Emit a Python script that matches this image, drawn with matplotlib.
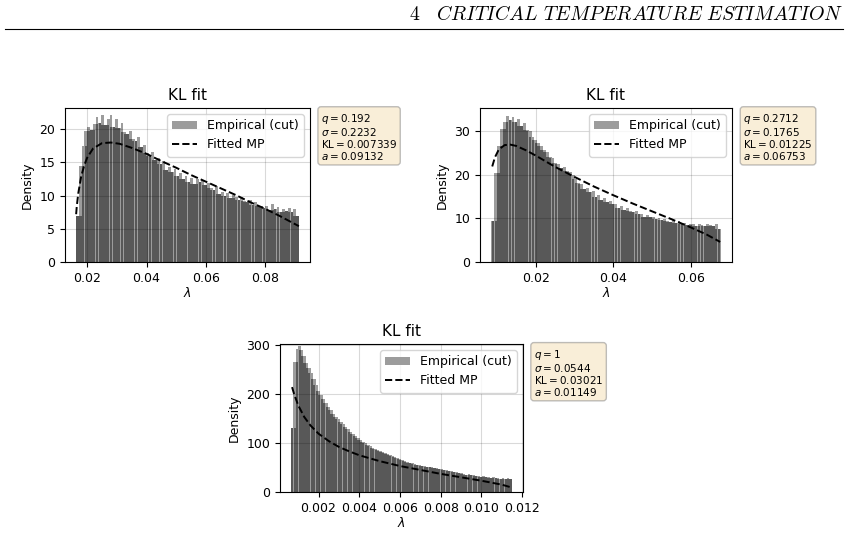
import numpy as np
import matplotlib
matplotlib.use("Agg")
import matplotlib.pyplot as plt
from matplotlib.patches import Patch
from matplotlib.lines import Line2D

### empirical spectra (histogram heights, one value per bin) + cut range
lo1, hi1 = 0.0163, 0.0913
dens1 = [7.0, 14.5, 17.5, 19.8, 20.3, 19.9, 20.8, 21.9, 21.0, 22.1,
         20.6, 21.5, 22.1, 20.4, 21.6, 20.2, 20.9, 19.6, 19.3, 19.8,
         18.6, 18.2, 18.9, 17.4, 17.7, 16.4, 16.0, 16.5, 15.4, 15.7,
         14.8, 15.2, 13.9, 14.3, 13.6, 14.0, 13.0, 13.4, 12.5, 12.9,
         12.1, 12.6, 11.7, 12.5, 12.0, 12.3, 11.6, 11.9, 11.2, 10.8,
         11.4, 10.2, 10.6, 10.0, 10.4, 9.7, 10.1, 9.8, 9.4, 9.8,
         9.2, 9.0, 9.3, 8.6, 9.0, 8.4, 8.5, 8.1, 8.5, 7.9,
         8.7, 8.0, 8.3, 7.6, 8.0, 7.7, 8.1, 7.5, 8.0, 7.0]

lo2, hi2 = 0.0086, 0.0676
dens2 = [9.5, 20.5, 26.5, 30.4, 32.0, 33.5, 32.6, 33.2, 32.1, 32.8,
         31.2, 31.9, 30.2, 30.0, 28.6, 28.0, 27.3, 26.6, 25.7, 25.1,
         24.0, 23.9, 22.8, 22.5, 21.6, 21.8, 20.8, 20.6, 19.9, 19.0,
         18.0, 17.9, 16.8, 16.9, 16.0, 16.3, 15.0, 15.3, 14.3, 14.6,
         13.8, 14.0, 13.4, 13.2, 12.4, 12.8, 12.0, 12.3, 11.6, 11.5,
         11.7, 10.9, 11.1, 10.4, 10.8, 10.3, 10.4, 9.8, 10.0, 9.6,
         9.8, 9.3, 9.2, 9.6, 8.9, 9.4, 8.7, 8.9, 8.5, 8.8,
         8.6, 8.3, 8.7, 8.4, 8.2, 8.6, 8.4, 8.2, 8.8, 7.6]

lo3, hi3 = 0.00065, 0.01149
dens3 = [130, 265, 292, 298, 290, 277, 264, 253, 242, 231,
         219, 207, 198, 190, 182, 174, 167, 160, 154, 148,
         143, 138, 133, 128, 123, 119, 114, 110, 106, 102,
         99, 96, 93, 90, 88, 86, 83, 81, 79, 77,
         75, 73, 71, 69, 67, 65, 64, 62, 60, 59,
         58, 56, 55, 54, 53, 52, 51, 50, 49, 48,
         47, 46, 45, 44, 43, 42, 41, 40, 39, 38,
         37, 35, 36, 34, 35, 32, 33, 31, 32, 30,
         31, 29, 30, 28, 29, 27, 29, 27, 28, 26]

### fitted MP curves
lam1_fit = [0.0163, 0.0165, 0.017, 0.018, 0.019, 0.020, 0.022, 0.025, 0.028, 0.031, 0.035,
            0.040, 0.045, 0.050, 0.055, 0.060, 0.065, 0.070, 0.075, 0.080, 0.085, 0.0913]
mp1_fit = [7.2, 8.3, 10.3, 12.9, 14.5, 15.7, 17.1, 17.9, 18.0, 17.8, 17.2,
           16.3, 15.2, 14.2, 13.1, 12.1, 11.1, 10.1, 9.0, 8.0, 6.9, 5.4]

lam2_fit = [0.0088, 0.0095, 0.0105, 0.012, 0.0135, 0.015, 0.0175, 0.020, 0.025, 0.030,
            0.035, 0.040, 0.045, 0.050, 0.055, 0.060, 0.064, 0.0675]
mp2_fit = [21.9, 24.0, 25.8, 26.8, 26.9, 26.6, 25.6, 24.4, 21.8, 19.5,
           17.3, 15.3, 13.4, 11.6, 9.8, 7.9, 6.3, 4.6]

lam3_fit = [0.0007, 0.0008, 0.001, 0.0013, 0.0016, 0.002, 0.0025, 0.003, 0.0035, 0.004,
            0.005, 0.006, 0.007, 0.008, 0.009, 0.010, 0.011, 0.0115]
mp3_fit = [214, 200, 177, 153, 136, 119, 104, 92, 83, 75, 63, 53, 45, 37, 30, 23, 15, 9]

### fit parameters shown in the side boxes
params = [("0.192", "0.2232", "0.007339", "0.09132"),
          ("0.2712", "0.1765", "0.01225", "0.06753"),
          ("1", "0.0544", "0.03021", "0.01149")]

ylims = [23.2, 35.3, 302]

light = "#9c9c9c"
dark = "#585858"

fig = plt.figure(figsize=(8.48, 5.6), dpi=100)

# page header
fig.text(0.994, 1 - 20 / 560, r"$4\quad\mathit{CRITICAL\ TEMPERATURE\ ESTIMATION}$",
         ha="right", va="baseline", fontsize=14.3, math_fontfamily="cm")
fig.add_artist(Line2D([0.006, 0.994], [1 - 29 / 560] * 2, color="black", lw=0.8))

axes = [fig.add_axes([65 / 848, 1 - 262 / 560, 245 / 848, 154 / 560]),
        fig.add_axes([480 / 848, 1 - 262 / 560, 252 / 848, 154 / 560]),
        fig.add_axes([280 / 848, 1 - 492 / 560, 243 / 848, 148 / 560])]

data = [(lo1, hi1, dens1, lam1_fit, mp1_fit),
        (lo2, hi2, dens2, lam2_fit, mp2_fit),
        (lo3, hi3, dens3, lam3_fit, mp3_fit)]

for ax, (lo, hi, dens, lf, mf), p, ym in zip(axes, data, params, ylims):
    h = np.array(dens, dtype=float)
    edges = np.linspace(lo, hi, len(h) + 1)
    w = edges[1] - edges[0]
    centers = edges[:-1] + w / 2
    # light full bars, dark where the neighbours overlap (mimics the rasterised look)
    left = np.concatenate([[h[0]], h[:-1]])
    right = np.concatenate([h[1:], [h[-1]]])
    inner = np.minimum(h, np.minimum(left, right))
    ax.bar(centers, h, width=w, color=light, linewidth=0)
    ax.bar(centers, inner, width=w * 0.86, color=dark, linewidth=0)
    ax.plot(lf, mf, "k--", lw=1.4)
    ax.set_ylim(0, ym)
    ax.set_axisbelow(False)
    ax.grid(True, color="black", alpha=0.15, lw=0.8)
    ax.set_title("KL fit", fontsize=11)
    ax.set_xlabel(r"$\lambda$", fontsize=9, labelpad=1)
    ax.set_ylabel("Density", fontsize=9)
    ax.tick_params(labelsize=9)
    handles = [Patch(facecolor=light), Line2D([], [], color="k", ls="--", lw=1.4)]
    ax.legend(handles, ["Empirical (cut)", "Fitted MP"], loc="upper right", fontsize=9)
    txt = "$q = %s$\n$\\sigma = %s$\n$\\mathrm{KL} = %s$\n$a = %s$" % p
    ax.text(1.045, 0.975, txt, transform=ax.transAxes, fontsize=7.5, va="top", ha="left",
            linespacing=1.0, math_fontfamily="dejavusans",
            bbox=dict(boxstyle="round", facecolor="wheat", alpha=0.5, edgecolor="gray"))

fig.savefig("out.png", dpi=100)
